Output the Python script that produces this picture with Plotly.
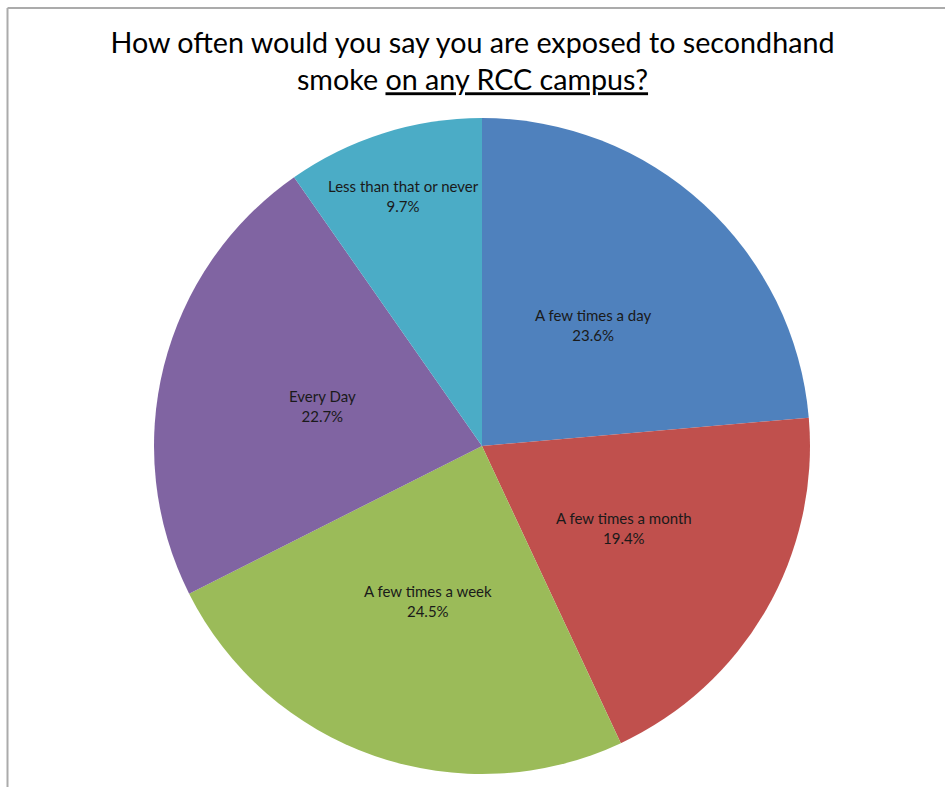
import math
import plotly.graph_objects as go

categories = ["A few times a day", "A few times a month", "A few times a week",
              "Every Day", "Less than that or never"]
percentages = [23.6, 19.4, 24.5, 22.7, 9.7]
colors = ["#4F81BD", "#C0504D", "#9BBB59", "#8064A2", "#4BACC6"]

W, H = 945, 787
CX, CY, R = 482, 446, 328          # pie centre / radius in pixels
LABEL_FONT = dict(family="Lato, Open Sans, sans-serif", size=15, color="#1a1a1a")

fig = go.Figure(go.Pie(
    labels=categories,
    values=percentages,
    sort=False,
    direction="clockwise",
    rotation=0,
    marker=dict(colors=colors, line=dict(width=0)),
    textinfo="none",
    hoverinfo="label+value",
    showlegend=False,
    domain=dict(x=[(CX - R) / W, (CX + R) / W], y=[1 - (CY + R) / H, 1 - (CY - R) / H]),
))

# data labels placed on each slice's bisector (small slices pushed outward, like Excel)
total = sum(percentages)
annotations = []
cum = 0.0
for lab, v in zip(categories, percentages):
    frac = v / total
    ang = 2 * math.pi * (cum + frac / 2)
    cum += frac
    rf = 0.5 if frac > 0.15 else 0.8
    px = CX + rf * R * math.sin(ang)
    py = CY - rf * R * math.cos(ang)
    annotations.append(dict(
        text=f"{lab}<br>{v:.1f}%", x=px / W, y=1 - py / H,
        xref="paper", yref="paper", xanchor="center", yanchor="middle",
        showarrow=False, font=LABEL_FONT, align="center",
    ))

fig.update_layout(
    width=W, height=H,
    margin=dict(l=0, r=0, t=0, b=0),
    paper_bgcolor="white",
    title=dict(
        text="How often would you say you are exposed to secondhand<br>smoke <u>on any RCC campus?</u>",
        x=0.5, xanchor="center",
        y=1 - 53 / H, yanchor="middle",
        font=dict(family="Lato, Open Sans, sans-serif", size=28.7, color="#000000"),
    ),
    annotations=annotations,
    shapes=[
        dict(type="line", xref="paper", yref="paper",
             x0=7.5 / W, x1=7.5 / W, y0=0, y1=1 - 8 / H,
             line=dict(color="#ababab", width=2)),
        dict(type="line", xref="paper", yref="paper",
             x0=7.5 / W, x1=1, y0=1 - 8 / H, y1=1 - 8 / H,
             line=dict(color="#ababab", width=2)),
    ],
)

fig.write_html("out.html", config={"displayModeBar": False},
               post_script="document.body.style.margin='0';")
